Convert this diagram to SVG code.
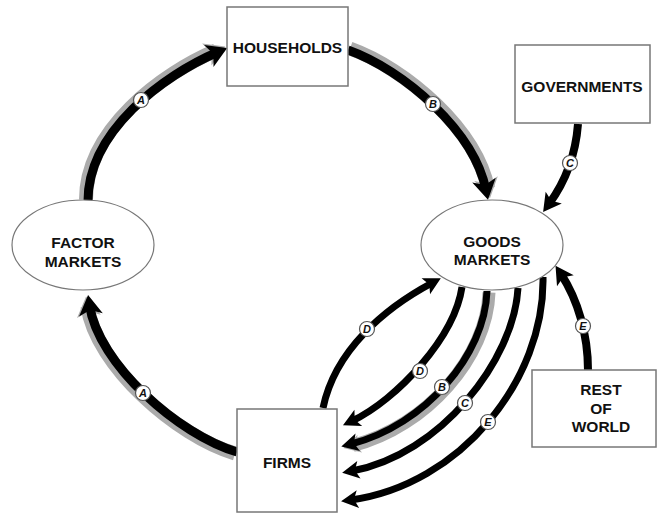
<svg xmlns="http://www.w3.org/2000/svg" width="657" height="514" viewBox="0 0 657 514">
<style>
.box{fill:#fff;stroke:#777;stroke-width:1.5}
.ell{fill:#fff;stroke:#777;stroke-width:1.2}
.t{font-family:"Liberation Sans",Arial,sans-serif;font-weight:bold;font-size:15.5px;fill:#111;text-anchor:middle}
.big{fill:none;stroke:#000;stroke-width:9;marker-end:url(#ah)}
.shadow{fill:none;stroke:#ababab;stroke-width:14;marker-end:url(#ahg)}
.med{fill:none;stroke:#000;stroke-width:8;marker-end:url(#am)}
.sm{fill:none;stroke:#000;stroke-width:7;marker-end:url(#as)}
.smshadow{fill:none;stroke:#ababab;stroke-width:13;marker-end:url(#asg)}
.lc{fill:#fff;stroke:#555;stroke-width:1.2}
.lt{font-family:"Liberation Sans",Arial,sans-serif;font-weight:bold;font-style:italic;font-size:11px;fill:#111;text-anchor:middle}
</style>
<defs>
<marker id="ah" markerUnits="userSpaceOnUse" markerWidth="22" markerHeight="26" refX="10" refY="13" orient="auto" overflow="visible"><path d="M0,1 L20,13 L0,25 L5,13 Z" fill="#000"/></marker>
<marker id="ahg" markerUnits="userSpaceOnUse" markerWidth="22" markerHeight="26" refX="10" refY="13" orient="auto" overflow="visible"><path d="M0,1 L20,13 L0,25 L5,13 Z" fill="#ababab"/></marker>
<marker id="am" markerUnits="userSpaceOnUse" markerWidth="20" markerHeight="22" refX="8" refY="11" orient="auto" overflow="visible"><path d="M0,1 L18,11 L0,21 L4,11 Z" fill="#000"/></marker>
<marker id="as" markerUnits="userSpaceOnUse" markerWidth="18" markerHeight="20" refX="7" refY="10" orient="auto" overflow="visible"><path d="M0,1 L17,10 L0,19 L4,10 Z" fill="#000"/></marker>
<marker id="asg" markerUnits="userSpaceOnUse" markerWidth="18" markerHeight="20" refX="7" refY="10" orient="auto" overflow="visible"><path d="M0,1 L17,10 L0,19 L4,10 Z" fill="#ababab"/></marker>
</defs>
<rect width="657" height="514" fill="#fff"/>

<g id="connectors">
  <!-- A: factor markets -> households -->
  <path class="shadow" transform="translate(-2,-1.5)" d="M88,201 C88,131 164,75 218,52"/>
  <path class="big" d="M88,201 C88,131 164,75 218,52"/>
  <!-- B: households -> goods markets -->
  <path class="shadow" transform="translate(2,-1.5)" d="M348,50 C404,70 474,131 486,190"/>
  <path class="big" d="M348,50 C404,70 474,131 486,190"/>
  <!-- A: firms -> factor markets -->
  <path class="shadow" transform="translate(-2,1.5)" d="M237,452 C179,435 98,364 89.5,305"/>
  <path class="big" d="M237,452 C179,435 98,364 89.5,305"/>
  <!-- C: governments -> goods markets -->
  <path class="med" d="M578,124 C576,150 568,178 549,204"/>
  <!-- E: rest of world -> goods markets -->
  <path class="med" d="M588,370 C588,335 578,300 561,274"/>
  <!-- D: firms -> goods markets -->
  <path class="sm" d="M323,408 C335,350 385,308 432,283"/>
  <!-- goods markets -> firms -->
  <path class="sm" d="M462,287 C454.5,337.5 397,399.5 352,421"/>
  <path class="smshadow" transform="translate(2,1.5)" d="M487,291 C485,355 425,425 351,444"/>
  <path class="sm" d="M487,291 C485,355 425,425 351,444"/>
  <path class="sm" d="M518,288 C514,360 440,455 352,471"/>
  <path class="sm" d="M543,277 C545,380 460,485 351,500"/>

  <g id="labels">
    <circle class="lc" cx="141" cy="100" r="7.5"/><text class="lt" x="141" y="104">A</text>
    <circle class="lc" cx="433" cy="104" r="7.5"/><text class="lt" x="433" y="108">B</text>
    <circle class="lc" cx="570" cy="163" r="7.5"/><text class="lt" x="570" y="167">C</text>
    <circle class="lc" cx="143" cy="393" r="7.5"/><text class="lt" x="143" y="397">A</text>
    <circle class="lc" cx="583" cy="326" r="7.5"/><text class="lt" x="583" y="330">E</text>
    <circle class="lc" cx="367" cy="329" r="7.5"/><text class="lt" x="367" y="333">D</text>
    <circle class="lc" cx="420" cy="371" r="7.5"/><text class="lt" x="420" y="375">D</text>
    <circle class="lc" cx="442" cy="387" r="7.5"/><text class="lt" x="442" y="391">B</text>
    <circle class="lc" cx="465" cy="403" r="7.5"/><text class="lt" x="465" y="407">C</text>
    <circle class="lc" cx="488" cy="422" r="7.5"/><text class="lt" x="488" y="426">E</text>
  </g>
</g>

<g id="households">
  <rect class="box" x="227" y="7" width="121" height="79"/>
  <text class="t" x="287.5" y="53">HOUSEHOLDS</text>
</g>
<g id="governments">
  <rect class="box" x="515" y="45" width="135" height="78"/>
  <text class="t" x="582" y="92">GOVERNMENTS</text>
</g>
<g id="factor-markets">
  <ellipse class="ell" cx="83" cy="245" rx="71" ry="45"/>
  <text class="t" x="83" y="248">FACTOR</text>
  <text class="t" x="83" y="267">MARKETS</text>
</g>
<g id="goods-markets">
  <ellipse class="ell" cx="492" cy="245" rx="71" ry="45"/>
  <text class="t" x="492" y="247">GOODS</text>
  <text class="t" x="492" y="265">MARKETS</text>
</g>
<g id="firms">
  <rect class="box" x="237" y="409" width="100" height="103"/>
  <text class="t" x="287" y="468">FIRMS</text>
</g>
<g id="rest-of-world">
  <rect class="box" x="532" y="370" width="124" height="77"/>
  <text class="t" x="601" y="395">REST</text>
  <text class="t" x="601" y="414">OF</text>
  <text class="t" x="601" y="432">WORLD</text>
</g>
</svg>
